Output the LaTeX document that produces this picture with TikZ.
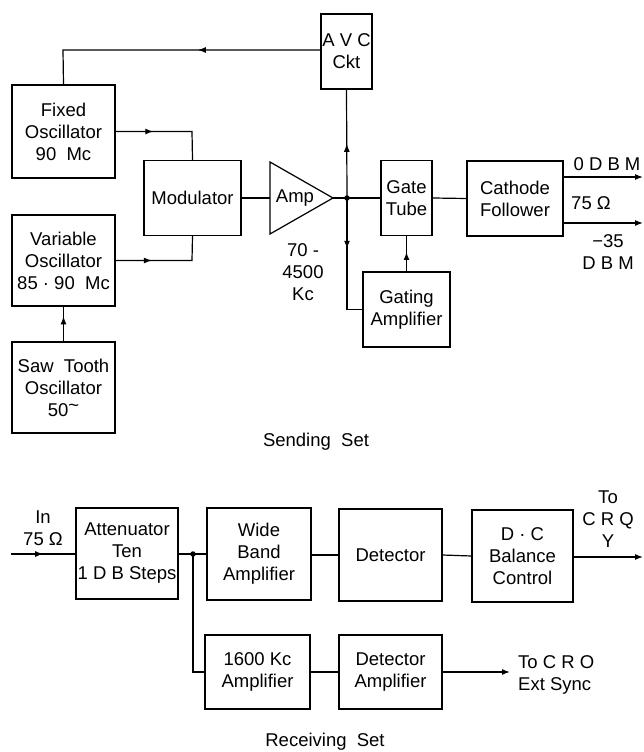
\documentclass[tikz,border=0pt]{standalone}
\usepackage{fontspec}
\setmainfont{Liberation Sans}
\usetikzlibrary{arrows.meta,decorations.markings}
\begin{document}
\begin{tikzpicture}[x=1pt,y=-1pt,
  blk/.style={draw, line width=1.2pt, align=center, inner sep=0pt, font=\fontsize{18.5}{22}\selectfont},
  ln/.style={line width=1.2pt},
  tipend/.style={-{Latex[length=8pt,width=6pt]}},
  midarr/.style={postaction={decorate}, decoration={markings, mark=at position #1 with {\arrow{Latex[length=8pt,width=6pt]}}}},
  lbl/.style={align=center, inner sep=0pt, font=\fontsize{18.5}{22}\selectfont},
  jdot/.style={circle, fill, inner sep=0pt, minimum size=5.5pt}]
\useasboundingbox (0,0) rectangle (644,752);
% ---------------- Sending set ----------------
\node[blk, minimum width=103pt, minimum height=93pt] (fixed) at (63.5,131.5) {Fixed\\Oscillator\\90\ \ Mc};
\node[blk, minimum width=103pt, minimum height=91pt] (var) at (63.5,260.5) {Variable\\Oscillator\\85 · 90\ \ Mc};
\node[blk, minimum width=103pt, minimum height=91pt] (saw) at (63.5,387.5) {Saw\ \ Tooth\\Oscillator\\50\raisebox{0.25em}{\textasciitilde}};
\node[blk, minimum width=97pt, minimum height=75pt] (mod) at (192.5,198) {Modulator};
\coordinate (ampin) at (270,198);
\coordinate (ampout) at (333,198);
\draw[ln] (270,162) -- (ampout) -- (270,234) -- cycle;
\node[lbl] (amp) at (295,198) {Amp};
\node[blk, minimum width=51pt, minimum height=75pt] (avc) at (346.5,51.5) {A V C\\Ckt};
\node[blk, minimum width=51pt, minimum height=75pt] (gate) at (406.5,198) {Gate\\Tube};
\node[blk, minimum width=96pt, minimum height=75pt] (cath) at (515,198.5) {Cathode\\Follower};
\node[blk, minimum width=87pt, minimum height=75pt] (gating) at (406.5,309.5) {Gating\\Amplifier};
\node[jdot] (j1) at (347,198) {};
\coordinate (out1) at (643,177);
\coordinate (out2) at (643,223);

\draw[ln, midarr=0.42] (avc.west |- 0,50) -- (63,50) -- (fixed.north);
\draw[ln, midarr=0.36] (fixed.east) -- (192,131.5) -- (mod.north);
\draw[ln, midarr=0.36] (var.east) -- (192,260.5) -- (mod.south);
\draw[ln, midarr=0.72] (saw.north) -- (var.south);
\draw[ln] (mod.east) -- (ampin);
\draw[ln] (ampout) -- (j1.center) -- (gate.west);
\draw[ln, midarr=0.5] (j1.center) -- (avc.south);
\draw[ln, midarr=0.4] (j1.center) -- (347,309.5) -- (gating.west);
\draw[ln, midarr=0.55] (gating.north) -- (gate.south);
\draw[ln] (gate.east) -- (cath.west);
\draw[ln, tipend] (cath.east |- out1) -- (out1);
\draw[ln, tipend] (cath.east |- out2) -- (out2);

\node[lbl] (odbm) at (607,164) {0 D B M};
\node[lbl] (ohm) at (591,203) {75 Ω};
\node[lbl] (m35) at (608,252) {−35\\D B M};
\node[lbl] (band) at (303,272) {70 -\\4500\\Kc};
\node[lbl] (send) at (316,442) {Sending\ \ Set};

% ---------------- Receiving set ----------------
\node[blk, minimum width=102pt, minimum height=91pt] (att) at (127,553.5) {Attenuator\\Ten\\1 D B Steps};
\node[blk, minimum width=104pt, minimum height=92pt] (wide) at (259,554) {Wide\\Band\\Amplifier};
\node[blk, minimum width=103pt, minimum height=92pt] (det) at (390.5,555) {Detector};
\node[blk, minimum width=101pt, minimum height=92pt] (dc) at (522.5,556) {D · C\\Balance\\Control};
\node[blk, minimum width=105pt, minimum height=74pt] (k16) at (257.5,672) {1600 Kc\\Amplifier};
\node[blk, minimum width=103pt, minimum height=74pt] (detamp) at (390.5,672) {Detector\\Amplifier};
\node[jdot] (j2) at (193,554) {};
\coordinate (inp) at (11,554);
\coordinate (outy) at (643,557);
\coordinate (outs) at (510,672);

\draw[ln, midarr=0.5] (inp) -- (att.west |- inp);
\draw[ln] (att.east |- j2) -- (j2.center) -- (wide.west |- j2);
\draw[ln] (j2.center) -- (193,672) -- (k16.west);
\draw[ln] (wide.east |- det.west) -- (det.west);
\draw[ln] (det.east) -- (dc.west);
\draw[ln, tipend] (dc.east |- outy) -- (outy);
\draw[ln] (k16.east) -- (detamp.west);
\draw[ln, tipend] (detamp.east) -- (outs);

\node[lbl] (inlbl) at (43,528) {In\\75 Ω};
\node[lbl] (tocrq) at (608,519) {To\\C R Q\\Y};
\node[lbl, align=left, anchor=west] (tocro) at (518,675) {To C R O\\Ext Sync};
\node[lbl] (recv) at (325,742) {Receiving\ \ Set};
\end{tikzpicture}
\end{document}
